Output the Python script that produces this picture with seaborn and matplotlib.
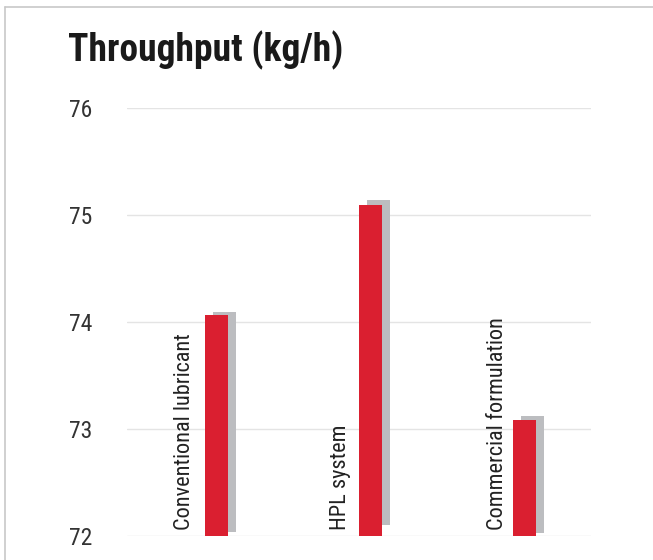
import numpy as np
import matplotlib
matplotlib.use("Agg")
import matplotlib.pyplot as plt
import seaborn as sns
from matplotlib import font_manager
from matplotlib.lines import Line2D

# data
categories = ["Conventional lubricant", "HPL system", "Commercial formulation"]
throughput = [74.06, 75.09, 73.08]
shadow_top = [74.09, 75.14, 73.12]
shadow_bottom = [72.04, 72.10, 72.025]
y_ticks = [72, 73, 74, 75, 76]

RED = "#da1f30"
GREY = "#bcbdc0"

# prefer a condensed face if one is installed
installed = {f.name for f in font_manager.fontManager.ttflist}
condensed = [f.name for f in font_manager.fontManager.ttflist
             if f.stretch in ("condensed", "semi-condensed") and f.name in installed]
FONT = None
for cand in ["Roboto Condensed", "Liberation Sans Narrow", "Open Sans Condensed",
             "Noto Sans Condensed", "DejaVu Sans Condensed"] + condensed:
    if cand in installed:
        FONT = cand
        break
if FONT is None:
    FONT = "Liberation Sans"
    sizes = dict(title=23, label=13.5, tick=15)
else:
    sizes = dict(title=27, label=16, tick=17)

sns.set_style("white")
plt.rcParams['font.family'] = [FONT, "DejaVu Sans"]

fig = plt.figure(figsize=(6.53, 5.6), dpi=100)
ax = fig.add_axes([0.1945, 0.0429, 0.7105, 0.7648])

bar_w = 0.15
x = np.arange(len(categories))

# grey "shadow" bars behind the red ones
ax.bar(x + 0.052, np.array(shadow_top) - np.array(shadow_bottom), bottom=shadow_bottom,
       width=bar_w, color=GREY, zorder=2, linewidth=0)
sns.barplot(x=categories, y=throughput, color=RED, saturation=1, width=bar_w,
            ax=ax, zorder=3, linewidth=0)

ax.set_ylim(72, 76)
ax.set_xlim(-0.581, 2.432)
ax.set_yticks(y_ticks)
ax.set_yticklabels([str(t) for t in y_ticks], fontsize=sizes["tick"], color="#333333")
ax.tick_params(axis="y", length=0, pad=25)
ax.tick_params(axis="x", bottom=False, labelbottom=False)
ax.set_xlabel("")
ax.set_ylabel("")
ax.grid(axis="y", color="#e4e4e4", linewidth=1, zorder=0)
ax.set_axisbelow(True)
for s in ax.spines.values():
    s.set_visible(False)

# category names written upright next to each bar
label_shift = [-0.21, -0.195, -0.175]
for i, name in enumerate(categories):
    ax.text(i + label_shift[i], 72.055, name, rotation=90, ha="center", va="bottom",
            fontsize=sizes["label"], color="#222222", zorder=4)

fig.text(0.104, 0.891, "Throughput (kg/h)", fontsize=sizes["title"], fontweight="bold",
         color="#1a1a1a", ha="left", va="baseline")

# thin frame on top and left
fig.add_artist(Line2D([5 / 653, 1], [1 - 7 / 560, 1 - 7 / 560], color="#c8c8c8", lw=1.2))
fig.add_artist(Line2D([5 / 653, 5 / 653], [0, 1 - 7 / 560], color="#c8c8c8", lw=1.2))

fig.savefig("out.png", dpi=100)
